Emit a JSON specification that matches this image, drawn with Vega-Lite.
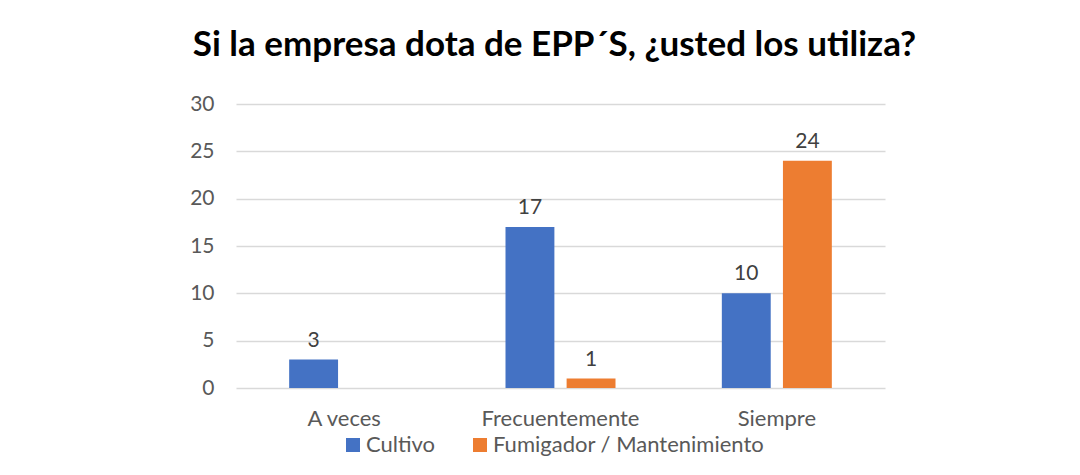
{
  "$schema": "https://vega.github.io/schema/vega-lite/v6.json",
  "autosize": {"type": "none"},
  "width": 649,
  "height": 284,
  "padding": {"left": 236, "top": 104, "right": 195, "bottom": 87},
  "background": "white",
  "title": {
    "text": "Si la empresa dota de EPP´S, ¿usted los utiliza?",
    "font": "Lato",
    "fontSize": 35,
    "fontWeight": "bold",
    "color": "#000000",
    "anchor": "middle",
    "dx": -6,
    "offset": 30
  },
  "data": {
    "values": [
      {"categoria": "A veces", "grupo": "Cultivo", "valor": 3},
      {"categoria": "Frecuentemente", "grupo": "Cultivo", "valor": 17},
      {"categoria": "Frecuentemente", "grupo": "Fumigador / Mantenimiento", "valor": 1},
      {"categoria": "Siempre", "grupo": "Cultivo", "valor": 10},
      {"categoria": "Siempre", "grupo": "Fumigador / Mantenimiento", "valor": 24}
    ]
  },
  "config": {
    "view": {"stroke": null},
    "font": "Lato"
  },
  "encoding": {
    "x": {
      "field": "categoria",
      "type": "nominal",
      "sort": ["A veces", "Frecuentemente", "Siempre"],
      "scale": {"paddingInner": 0, "paddingOuter": 0},
      "axis": {
        "title": null,
        "labelAngle": 0,
        "labelFont": "Lato",
        "labelFontSize": 22,
        "labelColor": "#595959",
        "labelPadding": 20,
        "ticks": false,
        "domain": false
      }
    },
    "xOffset": {
      "field": "grupo",
      "type": "nominal",
      "scale": {"domain": ["Cultivo", "Fumigador / Mantenimiento"], "paddingInner": 0.2, "paddingOuter": 0.87}
    },
    "y": {
      "field": "valor",
      "type": "quantitative",
      "scale": {"domain": [0, 30]},
      "axis": {
        "title": null,
        "values": [0, 5, 10, 15, 20, 25, 30],
        "labelFont": "Lato",
        "labelFontSize": 21,
        "labelColor": "#595959",
        "labelPadding": 22,
        "ticks": false,
        "domain": false,
        "gridColor": "#d9d9d9",
        "gridWidth": 1.5
      }
    },
    "color": {
      "field": "grupo",
      "type": "nominal",
      "scale": {"domain": ["Cultivo", "Fumigador / Mantenimiento"], "range": ["#4472C4", "#ED7D31"]},
      "legend": {
        "title": null,
        "orient": "none",
        "legendX": 106,
        "legendY": 330,
        "direction": "horizontal",
        "symbolType": "square",
        "symbolSize": 196,
        "symbolStrokeWidth": 0,
        "labelFont": "Lato",
        "labelFontSize": 22,
        "labelColor": "#595959",
        "labelLimit": 500,
        "columnPadding": 33,
        "labelOffset": 2
      }
    }
  },
  "layer": [
    {"mark": {"type": "bar"}},
    {
      "mark": {"type": "text", "baseline": "bottom", "dy": -9, "fontSize": 21, "font": "Lato", "color": "#404040"},
      "encoding": {
        "text": {"field": "valor", "type": "quantitative"},
        "color": {"value": "#404040"}
      }
    }
  ]
}
